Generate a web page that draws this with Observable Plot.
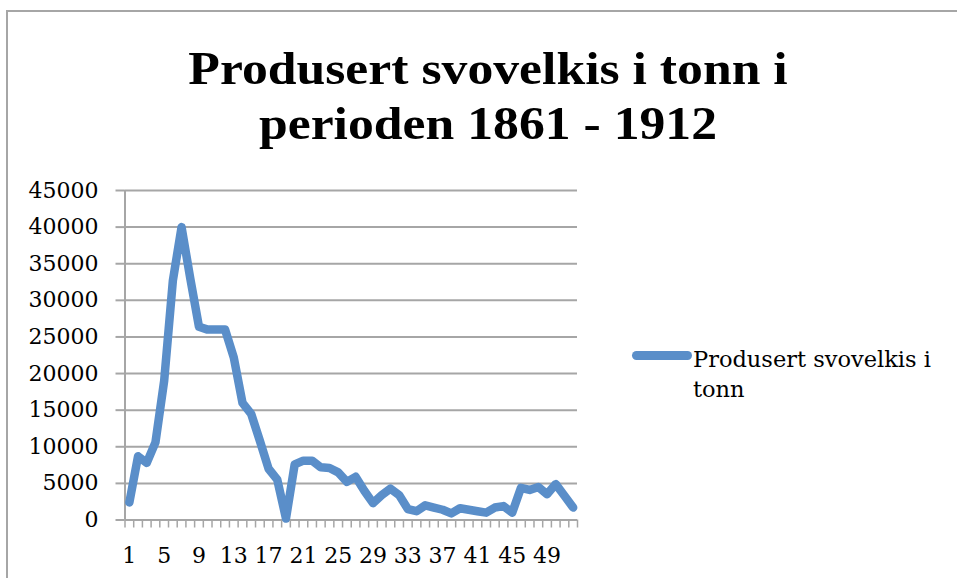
<!DOCTYPE html>
<html>
<head>
<meta charset="utf-8">
<script src="https://cdn.jsdelivr.net/npm/d3@7"></script>
<script src="https://cdn.jsdelivr.net/npm/@observablehq/plot@0.6"></script>
<style>
  html, body { margin: 0; padding: 0; background: #fff; }
  #wrap { position: relative; width: 957px; height: 578px; overflow: hidden; background: #fff; }
  #frame { position: absolute; left: 6px; top: 10px; width: 980px; height: 600px;
           border-left: 2px solid #a6a6a6; border-top: 2px solid #a6a6a6; }
  #chart { position: absolute; left: 0; top: 0; }
  #title { position: absolute; left: 5px; width: 966px; top: 41px; text-align: center;
           font-family: "Liberation Serif", serif; font-weight: bold; font-size: 47px;
           line-height: 55px; color: #000; transform: scaleX(1.1); transform-origin: 50% 50%; }
  #legend-swatch { position: absolute; left: 632px; top: 351px; width: 60px; height: 9px;
           border-radius: 4.5px; background: #5a8ec9; }
  #legend-text { position: absolute; left: 693px; top: 344px; width: 260px;
           font-family: "DejaVu Serif", serif; font-size: 22.5px; line-height: 30px; color: #000; }
</style>
</head>
<body>
<div id="wrap">
  <div id="frame"></div>
  <div id="chart"></div>
  <div id="title">Produsert svovelkis i tonn i<br>perioden 1861 - 1912</div>
  <div id="legend-swatch"></div>
  <div id="legend-text"></div>
</div>
<script>
// Category index (year number 1 = 1861 ... 52 = 1912)
const categories = [1,2,3,4,5,6,7,8,9,10,11,12,13,14,15,16,17,18,19,20,21,22,23,24,25,26,
  27,28,29,30,31,32,33,34,35,36,37,38,39,40,41,42,43,44,45,46,47,48,49,50,51,52];
// Produsert svovelkis i tonn
const tonn = [2400,8700,7800,10600,19000,32700,40000,33000,26400,26000,26000,26000,22200,16000,
  14500,10800,7000,5500,200,7600,8100,8100,7200,7100,6500,5200,5900,4000,2300,3400,4300,3400,
  1500,1200,2000,1700,1400,900,1600,1400,1200,1000,1700,1900,1000,4400,4100,4500,3500,4900,3300,1700];
const seriesName = "Produsert svovelkis i tonn";
const xTickLabels = [1,5,9,13,17,21,25,29,33,37,41,45,49];
const yTickValues = [0,5000,10000,15000,20000,25000,30000,35000,40000,45000];

const data = categories.map((c, i) => ({idx: c, value: tonn[i]}));
const boundaries = categories.map(c => c - 0.5).concat([categories[categories.length - 1] + 0.5]);
const grey = "#a6a6a6";
const lineColor = "#5a8ec9";

const chart = Plot.plot({
  width: 957,
  height: 578,
  marginTop: 190,
  marginBottom: 58.5,
  marginLeft: 124.5,
  marginRight: 380,
  x: {domain: [boundaries[0], boundaries[boundaries.length - 1]]},
  y: {domain: [0, 45000]},
  style: {fontFamily: "DejaVu Serif", fontSize: "22px", color: "#000", background: "transparent", overflow: "visible"},
  marks: [
    Plot.ruleY(yTickValues, {stroke: grey, strokeWidth: 2}),
    Plot.ruleX([boundaries[0]], {stroke: grey, strokeWidth: 2}),
    Plot.axisY({ticks: yTickValues, tickSize: 9, tickPadding: 17.5, stroke: grey, strokeWidth: 2,
                tickFormat: d => String(d), label: null, fontSize: 22}),
    Plot.axisX({ticks: boundaries, tickSize: 8, tickFormat: () => "", stroke: grey, strokeWidth: 1.5, label: null}),
    Plot.axisX({ticks: xTickLabels, tickSize: 0, tickPadding: 27, tickFormat: d => String(d), label: null, fontSize: 22}),
    Plot.line(data, {x: "idx", y: "value", stroke: lineColor, strokeWidth: 8.5,
                     strokeLinejoin: "round", strokeLinecap: "round"})
  ]
});
document.getElementById("chart").appendChild(chart);

const words = seriesName.split(" ");
document.getElementById("legend-text").innerHTML =
  words.slice(0, words.length - 1).join(" ") + "<br>" + words[words.length - 1];
</script>
</body>
</html>
